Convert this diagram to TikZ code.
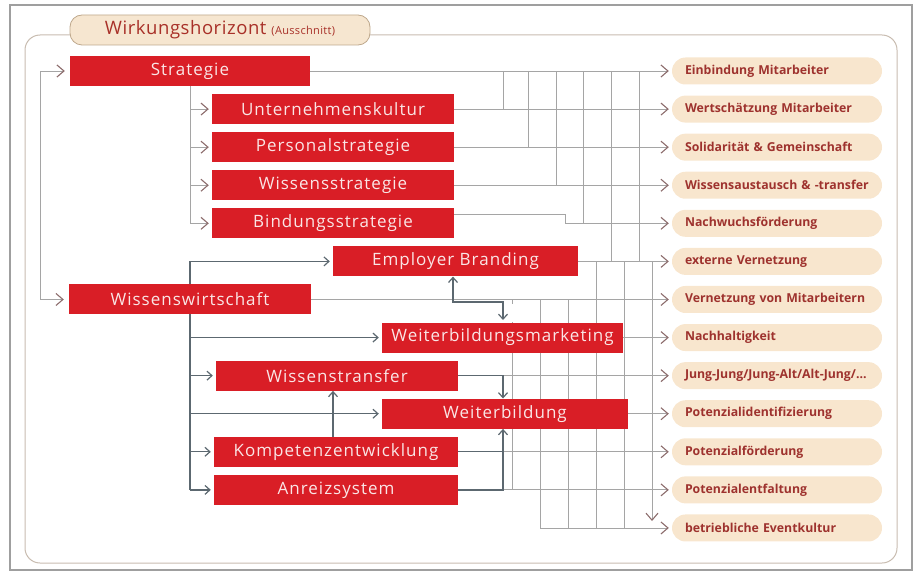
\documentclass[tikz,border=0pt]{standalone}
\usepackage{fontspec}
\setmainfont{Open Sans}
\newfontfamily\boxfont[LetterSpace=6]{Open Sans}
\newfontfamily\titlefont[LetterSpace=3]{Open Sans}
\usetikzlibrary{arrows.meta}

\definecolor{boxred}{RGB}{217,30,38}
\definecolor{boxtext}{RGB}{250,230,230}
\definecolor{pillfill}{RGB}{248,230,206}
\definecolor{pilltext}{RGB}{158,50,46}
\definecolor{titlefill}{RGB}{246,230,208}
\definecolor{titleline}{RGB}{190,168,140}
\definecolor{titletext}{RGB}{168,48,40}
\definecolor{frameline}{RGB}{200,188,176}
\definecolor{lineg}{RGB}{165,165,165}
\definecolor{tipcol}{RGB}{140,108,108}
\definecolor{darkline}{RGB}{92,104,112}

\pgfdeclarelayer{back}
\pgfdeclarelayer{mid}
\pgfsetlayers{back,mid,main}

\tikzset{
  redbox/.style={fill=boxred, text=boxtext, minimum height=30pt, inner sep=0pt,
    font=\boxfont\fontsize{17}{19}\selectfont},
  pill/.style={fill=pillfill, rounded corners=13.5pt, minimum height=27pt,
    text width=184pt, inner xsep=13pt, inner ysep=0pt, align=left,
    text=pilltext, font=\bfseries\fontsize{12.3}{14}\selectfont},
  titlebox/.style={fill=titlefill, draw=titleline, line width=0.8pt,
    rounded corners=12pt, minimum width=300pt, minimum height=30pt,
    text=titletext, font=\titlefont},
  chev/.tip={Straight Barb[length=7pt,width=12pt,line width=1.1pt,color=tipcol]},
  dkt/.tip={Straight Barb[length=5pt,width=9pt,line width=1.2pt]},
  lt/.style={draw=lineg, line width=0.9pt},
  dk/.style={draw=darkline, line width=1.3pt},
}

\begin{document}
\begin{tikzpicture}[x=1pt, y=-1pt]
\useasboundingbox (0,0) rectangle (918,572);

% Wirkungen (rechte Spalte)
\foreach \i/\t in {1/Einbindung Mitarbeiter, 2/Wertschätzung Mitarbeiter,
    3/Solidarität \& Gemeinschaft, 4/Wissensaustausch \& -transfer,
    5/Nachwuchsförderung, 6/externe Vernetzung, 7/Vernetzung von Mitarbeitern,
    8/Nachhaltigkeit, 9/{\mbox{Jung-Jung/Jung-Alt/Alt-Jung/…}},
    10/Potenzialidentifizierung, 11/Potenzialförderung,
    12/Potenzialentfaltung, 13/betriebliche Eventkultur}
  \node[pill] (p\i) at (777,{71+38.08*(\i-1)}) {\t};

% Handlungsfelder
\node[redbox, minimum width=240pt] (strat) at (190,0 |- p1) {Strategie};
\node[redbox, minimum width=242pt] (uk) at (333,0 |- p2) {Unternehmenskultur};
\node[redbox, minimum width=242pt] (ps) at (333,0 |- p3) {Personalstrategie};
\node[redbox, minimum width=242pt] (ws) at (333,0 |- p4) {Wissensstrategie};
\node[redbox, minimum width=242pt] (bs) at (333,0 |- p5) {Bindungsstrategie};
\node[redbox, minimum width=245pt] (eb) at (455.5,0 |- p6) {Employer Branding};
\node[redbox, minimum width=242pt] (ww) at (190,0 |- p7) {Wissenswirtschaft};
\node[redbox, minimum width=241pt] (wbm) at (502.5,0 |- p8) {Weiterbildungsmarketing};
\node[redbox, minimum width=242pt] (wt) at (337,0 |- p9) {Wissenstransfer};
\node[redbox, minimum width=246pt] (wb) at (505,0 |- p10) {Weiterbildung};
\node[redbox, minimum width=244pt] (ke) at (336,0 |- p11) {Kompetenzentwicklung};
\node[redbox, minimum width=244pt] (az) at (336,0 |- p12) {Anreizsystem};

\node[titlebox] (title) at (220,30)
  {{\fontsize{18.5}{20}\selectfont Wirkungshorizont}\hspace{5pt}{\fontsize{11}{12}\selectfont (Ausschnitt)}};

\begin{pgfonlayer}{back}
  % Rahmen
  \draw[gray!75, line width=1.2pt] (10,5) rectangle (912,570);
  \draw[frameline, line width=1pt, rounded corners=15pt] (25,35) rectangle (897,563);

  % linke Klammern
  \draw[lt] (40,0 |- strat) -- (40,0 |- ww);
  \draw[lt,-chev] (40,0 |- strat) -- ([xshift=-5pt]strat.west);
  \draw[lt,-chev] (40,0 |- ww) -- ([xshift=-5pt]ww.west);
  \draw[lt] (strat.south) -- (strat.south |- bs);
  \foreach \n in {uk,ps,ws,bs}
    \draw[lt,-chev] (strat.south |- \n) -- ([xshift=-3pt]\n.west);

  % Linien zu den Wirkungen
  \foreach \n/\i in {strat/1,uk/2,ps/3,ws/4,eb/6,ww/7,wbm/8,wt/9,wb/10,ke/11,az/12}
    \draw[lt,-chev] (\n.east) -- ([xshift=-3pt]p\i.west);
  \draw[lt,-chev] ([yshift=9pt]bs.east) -| (565,0 |- p5) -- ([xshift=-3pt]p5.west);
  \draw[lt,-chev] (540,0 |- p13) -- ([xshift=-3pt]p13.west);

  % Gitter
  \foreach \x/\i in {503/2,528/3,556/4,583/5,611/6,639/6}
    \draw[lt] (\x,0 |- p1) -- (\x,0 |- p\i);
  \foreach \x/\i/\j in {512/7/12,540/7/13,568/7/13,596/6/13,624/6/13}
    \draw[lt] (\x,0 |- p\i) -- (\x,0 |- p\j);
  \draw[lt,-chev] (652,0 |- p6) -- (652,521);
\end{pgfonlayer}

\begin{pgfonlayer}{mid}
  \fill[white] (481,304) rectangle (514,322);
  % Wissenswirtschaft
  \draw[dk] (ww.center |- eb) -- (ww.center |- az);
  \foreach \n in {eb,wbm,wt,wb,ke,az}
    \draw[dk,-dkt] (ww.center |- \n) -- ([xshift=-3pt]\n.west);
  \draw[dk,dkt-dkt] (eb.south -| 453,0) |- (503,302) -- (503,320);
  \draw[dk,-dkt] (wt.east) -| (wb.north -| 503,0);
  \draw[dk,-dkt] (ke.north -| 333,0) -- (wt.south -| 333,0);
  \draw[dk,-dkt] (ke.east) -| (wb.south -| 503,0);
  \draw[dk] (az.east) -| (503,0 |- ke);
\end{pgfonlayer}
\end{tikzpicture}
\end{document}
